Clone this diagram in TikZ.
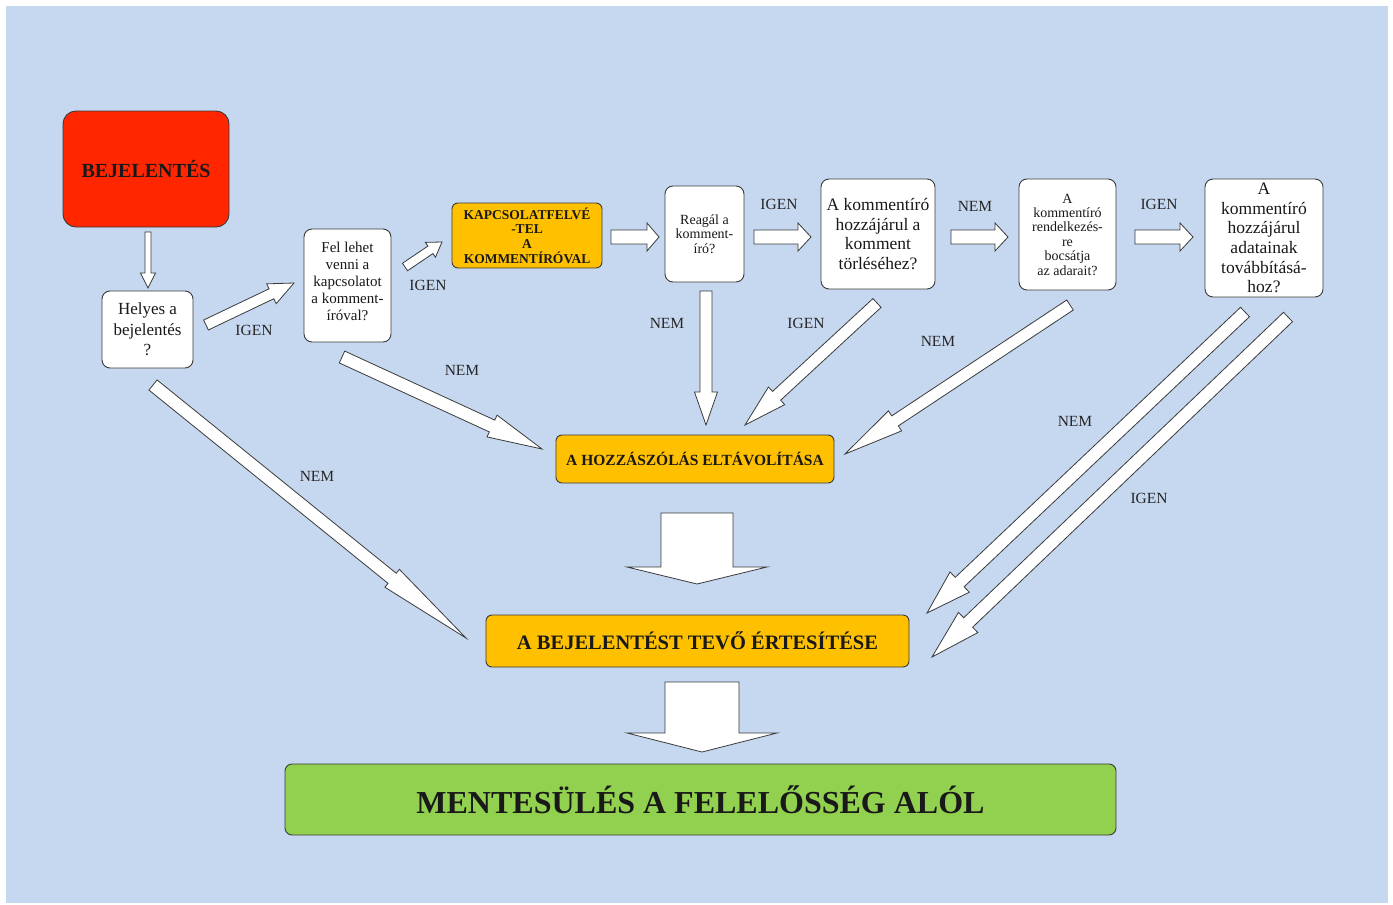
\documentclass[tikz,border=0pt]{standalone}
\usepackage{fontspec}
\setmainfont{Liberation Serif}
\usetikzlibrary{calc}
\definecolor{bgblue}{HTML}{C6D8EF}
\definecolor{boxred}{HTML}{FF2600}
\definecolor{boxorange}{HTML}{FFC000}
\definecolor{boxgreen}{HTML}{92D050}
\definecolor{edgegray}{HTML}{3A3A3A}
\newcommand{\blkarrow}[5]{%
  \path ($(#2)!#5!(#1)$) coordinate (hb);
  \draw[blockarr] ($(#1)!#3!90:(#2)$) -- ($(hb)!#3!-90:(#1)$) -- ($(hb)!#4!-90:(#1)$) -- (#2)
    -- ($(hb)!#4!90:(#1)$) -- ($(hb)!#3!90:(#1)$) -- ($(#1)!#3!-90:(#2)$) -- cycle;
}
\tikzset{
  box/.style={draw=edgegray, line width=0.9pt, rounded corners=8pt, fill=white, inner sep=1pt,
    align=center, text=black!90},
  qbox/.style={box},
  redbox/.style={box, fill=boxred, rounded corners=13pt, font={\fontsize{20}{24}\selectfont\bfseries}},
  orbox/.style={box, fill=boxorange, rounded corners=6pt},
  grbox/.style={box, fill=boxgreen, rounded corners=7pt, font={\fontsize{32}{36}\selectfont\bfseries}},
  blockarr/.style={fill=white, draw=edgegray, line width=0.8pt, line join=miter},
  lbl/.style={font={\fontsize{15.5}{18}\selectfont}, text=black!85, inner sep=0pt},
}
\begin{document}
\begin{tikzpicture}[x=1pt,y=-1pt]
\useasboundingbox (0,0) rectangle (1393,905);
\fill[bgblue] (6,6) rectangle (1388,903);

% nodes
\node[redbox, minimum width=166pt, minimum height=116pt] (bej) at (146,169) {BEJELENTÉS};
\node[qbox, minimum width=91pt, minimum height=77pt, font={\fontsize{17}{20.5}\selectfont}] (helyes) at (147.5,329.5) {Helyes a\\bejelentés\\?};
\node[qbox, minimum width=87pt, minimum height=113pt, font={\fontsize{15}{17}\selectfont}] (fel) at (347.5,285.5) {Fel lehet\\venni a\\kapcsolatot\\a komment-\\íróval?\\[-8pt]};
\node[orbox, minimum width=150pt, minimum height=65pt, font={\fontsize{13.5}{14.7}\selectfont\bfseries}] (kapcs) at (527,235.5) {KAPCSOLATFELVÉ\\-TEL\\A\\KOMMENTÍRÓVAL};
\node[qbox, minimum width=79pt, minimum height=96pt, font={\fontsize{14}{14.5}\selectfont}] (reagal) at (704.5,234) {Reagál a\\komment-\\író?};
\node[qbox, minimum width=114pt, minimum height=110pt, font={\fontsize{17.5}{19.6}\selectfont}] (torles) at (878,234) {A kommentíró\\hozzájárul a\\komment\\törléséhez?};
\node[qbox, minimum width=97pt, minimum height=111pt, font={\fontsize{14}{14.4}\selectfont}] (rend) at (1067.5,234.5) {A\\kommentíró\\rendelkezés-\\re\\bocsátja\\az adarait?};
\node[qbox, minimum width=118pt, minimum height=118pt, font={\fontsize{17.5}{19.6}\selectfont}] (tovabb) at (1264,238) {A\\kommentíró\\hozzájárul\\adatainak\\továbbításá-\\hoz?};
\node[orbox, minimum width=278pt, minimum height=48pt, font={\fontsize{15.5}{18}\selectfont\bfseries}] (hozz) at (695,459) {A HOZZÁSZÓLÁS ELTÁVOLÍTÁSA};
\node[orbox, minimum width=423pt, minimum height=52pt, font={\fontsize{20.5}{24}\selectfont\bfseries}] (ert) at (697.5,641) {A BEJELENTÉST TEVŐ ÉRTESÍTÉSE};
\node[grbox, minimum width=831pt, minimum height=71pt] (ment) at (700.5,799.5) {MENTESÜLÉS A FELELŐSSÉG ALÓL};

% arrow end points
\coordinate (a1) at (148,232);  \coordinate (a2) at (148,288);
\coordinate (b1) at (206,325);  \coordinate (b2) at (294,283);
\coordinate (c1) at (405,267);  \coordinate (c2) at (442,242);
\coordinate (d1) at (611,237);  \coordinate (d2) at (659,237);
\coordinate (e1) at (754,237);  \coordinate (e2) at (811,237);
\coordinate (f1) at (951,237);  \coordinate (f2) at (1008,237);
\coordinate (g1) at (1135,237); \coordinate (g2) at (1193,237);
\coordinate (h1) at (342,357);  \coordinate (h2) at (542,449);
\coordinate (i1) at (706,291);  \coordinate (i2) at (706,425);
\coordinate (j1) at (877,303);  \coordinate (j2) at (745,425);
\coordinate (k1) at (1070,305); \coordinate (k2) at (845,454);
\coordinate (l1) at (153,385);  \coordinate (l2) at (466,638);
\coordinate (m1) at (1245,312); \coordinate (m2) at (927,613);
\coordinate (n1) at (1288,317); \coordinate (n2) at (932,657);
\coordinate (o1) at (697,513);  \coordinate (o2) at (697,584);
\coordinate (p1) at (702,682);  \coordinate (p2) at (702,752);

% block arrows
\blkarrow{a1}{a2}{3pt}{7.5pt}{15pt}
\blkarrow{b1}{b2}{5.5pt}{11pt}{25pt}
\blkarrow{c1}{c2}{4.5pt}{9pt}{14pt}
\blkarrow{d1}{d2}{7pt}{14pt}{12pt}
\blkarrow{e1}{e2}{7pt}{14pt}{13pt}
\blkarrow{f1}{f2}{7pt}{14pt}{13pt}
\blkarrow{g1}{g2}{7pt}{14pt}{13pt}
\blkarrow{h1}{h2}{6.5pt}{12pt}{55pt}
\blkarrow{i1}{i2}{6pt}{11.5pt}{33pt}
\blkarrow{j1}{j2}{6pt}{12pt}{43pt}
\blkarrow{k1}{k2}{6pt}{12pt}{60pt}
\blkarrow{l1}{l2}{6.5pt}{11.5pt}{95pt}
\blkarrow{m1}{m2}{6.5pt}{14pt}{45pt}
\blkarrow{n1}{n2}{6.5pt}{14pt}{50pt}
\blkarrow{o1}{o2}{36pt}{70pt}{17pt}
\blkarrow{p1}{p2}{37pt}{75pt}{19pt}

% labels
\node[lbl] (l-b) at (254,330) {IGEN};
\node[lbl] (l-c) at (428,285) {IGEN};
\node[lbl] (l-e) at (779,204) {IGEN};
\node[lbl] (l-f) at (975,206) {NEM};
\node[lbl] (l-g) at (1159,204) {IGEN};
\node[lbl] (l-h) at (462,370) {NEM};
\node[lbl] (l-i) at (667,323) {NEM};
\node[lbl] (l-j) at (806,323) {IGEN};
\node[lbl] (l-k) at (938,341) {NEM};
\node[lbl] (l-m) at (1075,421) {NEM};
\node[lbl] (l-n) at (1149,498) {IGEN};
\node[lbl] (l-l) at (317,476) {NEM};
\end{tikzpicture}
\end{document}
